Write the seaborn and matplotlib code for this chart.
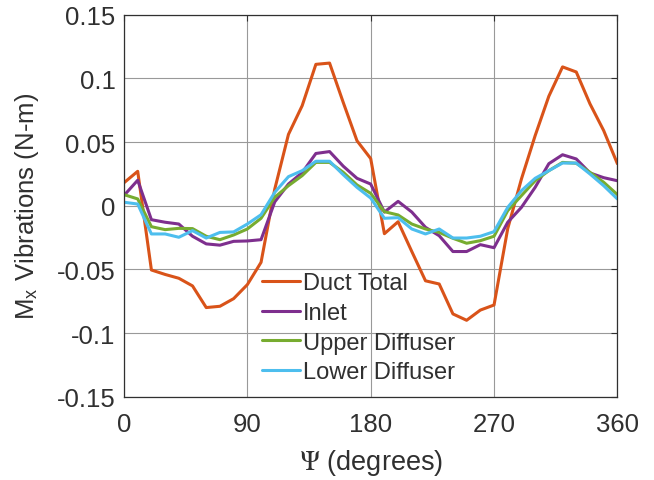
import matplotlib
matplotlib.use('Agg')
import matplotlib.pyplot as plt
import seaborn as sns
import pandas as pd
import numpy as np

# azimuth positions, every 10 degrees
psi = list(range(0, 361, 10))

duct_total = [0.018, 0.027, -0.0505, -0.054, -0.057, -0.063, -0.080, -0.079, -0.073, -0.062,
              -0.0445, 0.013, 0.056, 0.0785, 0.111, 0.112, 0.081, 0.051, 0.037,
              -0.022, -0.0126, -0.036, -0.059, -0.0615, -0.085, -0.090, -0.082, -0.078,
              -0.018, 0.021, 0.055, 0.086, 0.109, 0.105, 0.080, 0.059, 0.033]
inlet = [0.008, 0.020, -0.011, -0.013, -0.0144, -0.024, -0.030, -0.031, -0.028, -0.0277,
         -0.0267, 0.003, 0.017, 0.026, 0.041, 0.0425, 0.031, 0.0215, 0.017,
         -0.005, 0.0034, -0.005, -0.017, -0.0236, -0.036, -0.036, -0.0306, -0.033,
         -0.013, -0.0013, 0.0144, 0.033, 0.040, 0.0367, 0.0257, 0.022, 0.0196]
upper_diffuser = [0.0087, 0.0053, -0.0165, -0.0188, -0.0178, -0.018, -0.024, -0.0267, -0.023, -0.0183,
                  -0.0099, 0.0066, 0.0157, 0.0236, 0.034, 0.034, 0.0262, 0.0163, 0.0097,
                  -0.0047, -0.0073, -0.0144, -0.0183, -0.021, -0.0256, -0.0295, -0.0275, -0.024,
                  -0.0039, 0.0079, 0.0196, 0.0275, 0.034, 0.0333, 0.0262, 0.0184, 0.0087]
lower_diffuser = [0.0027, 0.0013, -0.0222, -0.0222, -0.0248, -0.0196, -0.0254, -0.021, -0.0206, -0.0144,
                  -0.0071, 0.0105, 0.0228, 0.0275, 0.0349, 0.0349, 0.0243, 0.0144, 0.006,
                  -0.0099, -0.0094, -0.0183, -0.0222, -0.0183, -0.0254, -0.0254, -0.024, -0.0204,
                  -0.0013, 0.0118, 0.0215, 0.0275, 0.0335, 0.0335, 0.0249, 0.0157, 0.0053]

series_names = ['Duct Total', 'Inlet', 'Upper Diffuser', 'Lower Diffuser']
series_colors = ['#D95319', '#7E2F8E', '#77AC30', '#4DBEEE']

x_ticks = [0, 90, 180, 270, 360]
y_ticks = [-0.15, -0.1, -0.05, 0, 0.05, 0.1, 0.15]
y_tick_labels = ['-0.15', '-0.1', '-0.05', '0', '0.05', '0.1', '0.15']

df = pd.concat([
    pd.DataFrame({'psi': psi, 'value': vals, 'series': name})
    for name, vals in zip(series_names, [duct_total, inlet, upper_diffuser, lower_diffuser])
], ignore_index=True)

sns.set_style('white')
plt.rcParams['font.family'] = ['Liberation Sans', 'DejaVu Sans']
plt.rcParams['mathtext.fontset'] = 'stix'
plt.rcParams['axes.unicode_minus'] = False

text_color = '#303030'
fig = plt.figure(figsize=(6.54, 4.81), dpi=100)
ax = fig.add_axes([0.1896, 0.1732, 0.7544, 0.7942])

sns.lineplot(data=df, x='psi', y='value', hue='series', hue_order=series_names,
             palette=series_colors, linewidth=2.2, legend=False, ax=ax)

ax.set_xlim(0, 360)
ax.set_ylim(-0.15, 0.15)
ax.set_xticks(x_ticks)
ax.set_xticklabels([str(t) for t in x_ticks])
ax.set_yticks(y_ticks)
ax.set_yticklabels(y_tick_labels)
ax.grid(True, color='#999999', linewidth=0.8)
ax.set_axisbelow(True)
ax.tick_params(direction='in', length=4, width=0.8, colors=text_color,
               labelsize=18.5, top=True, right=True)
ax.tick_params(axis='x', pad=11)
ax.tick_params(axis='y', pad=6)
for sp in ax.spines.values():
    sp.set_color(text_color)
    sp.set_linewidth(0.9)

ax.set_xlabel(r'$\Psi$ (degrees)', fontsize=19.5, color=text_color)
ax.set_ylabel(r'M$_\mathregular{x}$ Vibrations (N-m)', fontsize=18.5, color=text_color)
ax.xaxis.set_label_coords(0.5, -0.132)
ax.yaxis.set_label_coords(-0.168, 0.5)

ax.legend(ax.lines[:4], series_names, loc='upper left',
          bbox_to_anchor=(262 / 654, 1 - 273 / 481), bbox_transform=fig.transFigure,
          frameon=False, fontsize=17, borderpad=0, borderaxespad=0,
          handlelength=1.6, handletextpad=0.15, labelspacing=0.33,
          labelcolor=text_color)

fig.savefig('out.png', dpi=100)
